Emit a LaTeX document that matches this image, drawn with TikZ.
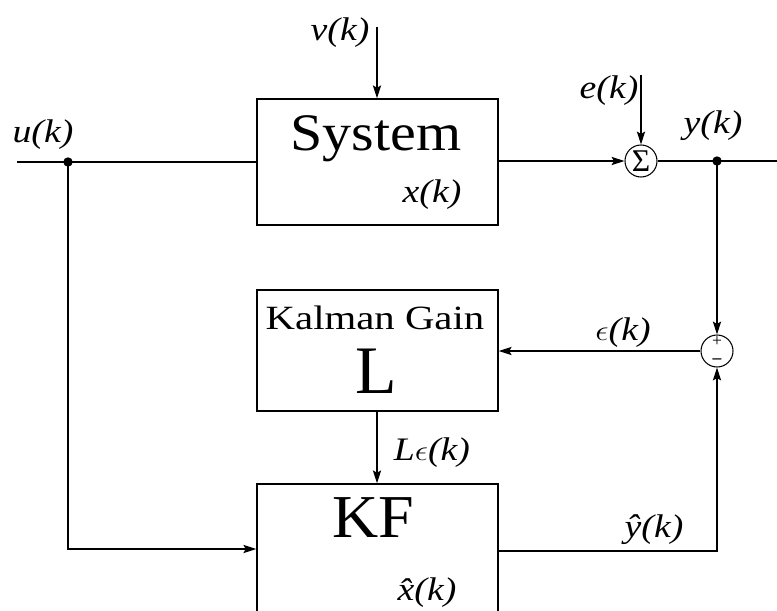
\documentclass[tikz,border=0pt]{standalone}
\usepackage{fontspec}
\setmainfont{Liberation Serif}
\usetikzlibrary{arrows.meta,calc,positioning}
\newcommand{\wide}[2][1.15]{\scalebox{#1}[1]{#2}}
\tikzset{
  blockbox/.style={draw,line width=1.2pt,minimum width=7.23cm,inner sep=0pt},
  sumnode/.style={draw,circle,line width=0.9pt,minimum size=0.96cm,inner sep=0pt},
  sig/.style={line width=0.9pt,-{Stealth[length=11pt,width=7pt,inset=2pt]}},
  wire/.style={line width=0.9pt},
  lbl/.style={font=\fontsize{28}{28}\selectfont\itshape,anchor=base,inner sep=0pt},
  signmark/.style={font=\fontsize{15}{15}\selectfont,inner sep=0pt},
}
\begin{document}
\begin{tikzpicture}[x=0.03cm,y=-0.03cm]
\useasboundingbox (0,0) rectangle (777,611);
% blocks
\node[blockbox,minimum height=3.78cm] (sys) at (377.5,162) {};
\node[blockbox,minimum height=3.63cm] (gain) at (377.5,350.5) {};
\node[blockbox,minimum height=4.68cm] (kf) at (377.5,562) {};
\node[font=\fontsize{45}{45}\selectfont,anchor=base,inner sep=0pt] (systxt) at (376,150) {\wide[1.1]{System}};
\node[lbl] (xk) at (432,202) {\wide{x(k)}};
\node[font=\fontsize{29}{29}\selectfont,anchor=base,inner sep=0pt] (gaintxt) at (375,329) {\wide[1.2]{Kalman Gain}};
\node[font=\fontsize{58}{58}\selectfont,anchor=base,inner sep=0pt] (ltxt) at (376,393) {L};
\node[font=\fontsize{52}{52}\selectfont,anchor=base,inner sep=0pt] (kftxt) at (373,537) {\wide[1.05]{KF}};
\node[lbl] (xhat) at (427,600) {\wide{\^{x}(k)}};
% summing points
\node[sumnode,font=\fontsize{27}{27}\selectfont] (sum) at (641,161) {Σ};
\node[sumnode] (diff) at (717,351) {};
\node[signmark] (plus) at (717,342) {+};
\node[signmark,font=\fontsize{15}{15}\selectfont\bfseries] (minus) at (717,361.5) {–};
% end points
\coordinate (uin) at (17,162);
\coordinate (udot) at (68,162);
\coordinate (ucorner) at (68,549);
\coordinate (vin) at (377,27);
\coordinate (ein) at (641,75);
\coordinate (ydot) at (717,161);
\coordinate (yout) at (777,161);
\coordinate (yhcorner) at (717,551);
% labels
\node[lbl] (ulbl) at (43,142) {\wide{u(k)}};
\node[lbl] (vlbl) at (340,40) {\wide{v(k)}};
\node[lbl] (elbl) at (609,98) {\wide{e(k)}};
\node[lbl] (ylbl) at (713,133) {\wide{y(k)}};
\node[lbl] (eplbl) at (623,340) {\wide{$\epsilon$(k)}};
\node[lbl] (lelbl) at (432,460) {\wide{L$\epsilon$(k)}};
\node[lbl] (yhlbl) at (654,537) {\wide{\^{y}(k)}};
% connectors
\draw[wire] (uin) -- (sys.west);
\draw[sig] (udot) -- (ucorner) -- (ucorner -| kf.west);
\draw[sig] (vin) -- (sys.north -| vin);
\draw[sig] (sys.east |- sum) -- (sum.west);
\draw[sig] (ein) -- (sum.north);
\draw[wire] (sum.east) -- (yout);
\draw[sig] (ydot) -- (diff.north);
\draw[sig] (diff.west) -- (diff.west -| gain.east);
\draw[sig] (gain.south -| vin) -- (kf.north -| vin);
\draw[sig] (kf.east |- yhcorner) -- (yhcorner) -- (diff.south);
\fill (udot) circle (4pt) (ydot) circle (4pt);
\end{tikzpicture}
\end{document}
